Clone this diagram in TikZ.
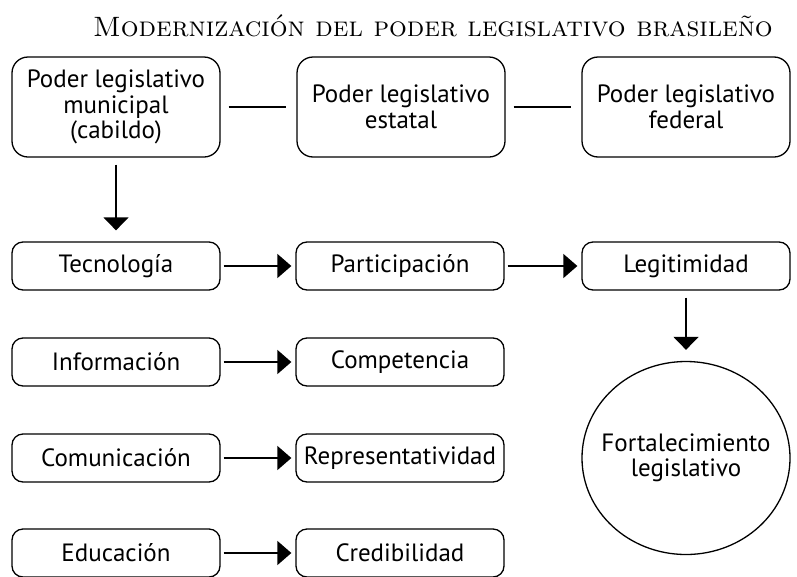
\documentclass[tikz,border=0pt]{standalone}
\usepackage{fontspec}
\setsansfont{PT Sans}
\usetikzlibrary{arrows.meta,shapes.geometric}

\tikzset{
  bigbox/.style={draw, line width=1.3pt, rounded corners=16pt, minimum width=208pt,
    minimum height=100pt, align=center, inner sep=2pt,
    font=\sffamily\fontsize{25}{25.5}\selectfont},
  smallbox/.style={draw, line width=1.3pt, rounded corners=11pt, minimum width=208pt,
    minimum height=48pt, align=center, inner sep=2pt,
    font=\sffamily\fontsize{25}{25.5}\selectfont},
  goal/.style={draw, line width=1.3pt, ellipse, minimum width=208pt, minimum height=193pt,
    inner sep=0pt, align=center, font=\sffamily\fontsize{25}{25.5}\selectfont},
  link/.style={line width=1.3pt, shorten <=8pt, shorten >=10pt},
  flow/.style={line width=1.3pt, -{Triangle[length=14pt,width=24pt]},
    shorten <=3pt, shorten >=4pt},
  down/.style={line width=1.3pt, -{Triangle[length=13pt,width=25pt]},
    shorten <=7pt, shorten >=11pt}
}

\begin{document}
\begin{tikzpicture}[x=1pt,y=-1pt]
\useasboundingbox (0,0) rectangle (797,576);

% Title
\node (title) at (433,26) {\fontsize{28}{30}\selectfont\textsc{Modernización del poder legislativo brasileño}};

% Levels of legislative power
\node[bigbox] (muni) at (116,107) {Poder legislativo\\municipal\\(cabildo)};
\node[bigbox] (state) at (401,107) {Poder legislativo\\estatal};
\node[bigbox] (fed) at (686,107) {Poder legislativo\\federal};

% Means
\node[smallbox] (tec) at (116,266) {Tecnología};
\node[smallbox] (info) at (116,362) {Información};
\node[smallbox] (comm) at (116,458) {Comunicación};
\node[smallbox] (edu) at (116,553) {Educación};

% Results
\node[smallbox] (part) at (400,266) {Participación};
\node[smallbox] (comp) at (400,362) {Competencia};
\node[smallbox] (repr) at (400,458) {Representatividad};
\node[smallbox] (cred) at (400,553) {Credibilidad};
\node[smallbox] (legit) at (686,266) {Legitimidad};

% Outcome
\node[goal] (fort) at (686,458) {\makebox[0pt]{Fortalecimiento}\\\makebox[0pt]{legislativo}};

% Connections
\draw[link] (muni) -- (state);
\draw[link] (state) -- (fed);
\draw[down] (muni) -- (tec);
\draw[flow] (tec) -- (part);
\draw[flow] (part) -- (legit);
\draw[flow] (info) -- (comp);
\draw[flow] (comm) -- (repr);
\draw[flow] (edu) -- (cred);
\draw[down] (legit) -- (fort);
\end{tikzpicture}
\end{document}
